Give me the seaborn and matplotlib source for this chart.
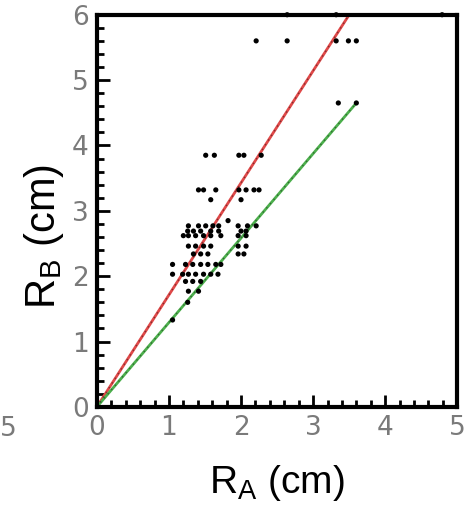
import numpy as np
import pandas as pd
import matplotlib
matplotlib.use("Agg")
import matplotlib.pyplot as plt
import seaborn as sns
from matplotlib.ticker import MultipleLocator

# ---- data ----
ra = [2.64, 3.32, 4.79,
      2.21, 2.64, 3.32, 3.49, 3.60,
      3.35, 3.60,
      1.51, 1.63, 1.97, 2.04, 2.28,
      1.41, 1.48, 1.65, 1.97, 2.07, 2.18, 2.25,
      1.58, 2.00,
      1.82,
      1.27, 1.41, 1.51, 1.61, 1.69, 1.96, 2.09, 2.21,
      1.26, 1.34, 1.44, 1.58, 1.69, 2.00, 2.07,
      1.20, 1.27, 1.37, 1.48, 1.58, 1.72, 1.96, 2.07,
      1.27, 1.37, 1.48, 1.58, 1.96, 2.07,
      1.34, 1.44, 1.54, 1.96, 2.04,
      1.05, 1.23, 1.33, 1.44, 1.54, 1.65, 1.72,
      1.05, 1.19, 1.27, 1.37, 1.48, 1.58, 1.68,
      1.23, 1.33, 1.44,
      1.27, 1.41,
      1.26,
      1.05]
rb = [6.0, 6.0, 6.0,
      5.6, 5.6, 5.6, 5.6, 5.6,
      4.65, 4.65,
      3.85, 3.85, 3.85, 3.85, 3.85,
      3.32, 3.32, 3.32, 3.32, 3.32, 3.32, 3.32,
      3.17, 3.17,
      2.85,
      2.77, 2.77, 2.77, 2.77, 2.77, 2.77, 2.77, 2.77,
      2.69, 2.69, 2.69, 2.69, 2.69, 2.69, 2.69,
      2.62, 2.62, 2.62, 2.62, 2.62, 2.62, 2.62, 2.62,
      2.46, 2.46, 2.46, 2.46, 2.46, 2.46,
      2.34, 2.34, 2.34, 2.34, 2.34,
      2.18, 2.18, 2.18, 2.18, 2.18, 2.18, 2.18,
      2.03, 2.03, 2.03, 2.03, 2.03, 2.03, 2.03,
      1.92, 1.92, 1.92,
      1.77, 1.77,
      1.60,
      1.33]

red_x = [0.0, 3.6]
red_y = [0.0, 6.17]
green_x = [0.0, 3.6]
green_y = [0.0, 4.65]

x_ticks = [0, 1, 2, 3, 4, 5]
y_ticks = [0, 1, 2, 3, 4, 5, 6]

sns.set_style("white")
plt.rcParams['font.family'] = ['Liberation Sans', 'DejaVu Sans']

fig = plt.figure(figsize=(4.68, 5.08), dpi=100)
ax = fig.add_axes([0.207, 0.199, 0.770, 0.772])

pts = pd.DataFrame({"RA": ra, "RB": rb})
sns.lineplot(x=red_x, y=red_y, ax=ax, color="#e04848", lw=2.0)
sns.lineplot(x=green_x, y=green_y, ax=ax, color="#4caf4c", lw=2.0)
sns.lineplot(x=red_x, y=red_y, ax=ax, color="#402020", lw=1.0, ls=(0, (1, 3)), alpha=0.6)
sns.lineplot(x=green_x, y=green_y, ax=ax, color="#203a20", lw=1.0, ls=(0, (1, 3)), alpha=0.6)
sns.scatterplot(data=pts, x="RA", y="RB", ax=ax, color="black", s=14,
                edgecolor="none", zorder=5, clip_on=False)

ax.set_xlim(0, 5)
ax.set_ylim(0, 6)
ax.set_xticks(x_ticks)
ax.set_yticks(y_ticks)
ax.xaxis.set_minor_locator(MultipleLocator(0.2))
ax.yaxis.set_minor_locator(MultipleLocator(0.2))
ax.tick_params(axis="both", which="major", direction="in", length=9, width=2,
               color="black", labelsize=19, labelcolor="#7a7a7a", pad=6,
               bottom=True, left=True, top=False, right=False)
ax.tick_params(axis="both", which="minor", direction="in", length=5, width=2,
               color="black", bottom=True, left=True, top=False, right=False)
for lbl in ax.get_xticklabels() + ax.get_yticklabels():
    lbl.set_fontfamily(['Liberation Sans Narrow', 'DejaVu Sans'])

for sp in ax.spines.values():
    sp.set_visible(True)
    sp.set_linewidth(3)
    sp.set_color("black")

ax.set_xlabel(r"R$_\mathregular{A}$ (cm)", fontsize=28, color="black", labelpad=16)
ax.set_ylabel(r"R$_\mathregular{B}$ (cm)", fontsize=30, color="black")
ax.yaxis.set_label_coords(-0.085, 0.436)

fig.text(0.0, 0.155, "5", fontsize=19, color="#7a7a7a", ha="left", va="center",
         family=['Liberation Sans Narrow', 'DejaVu Sans'])

fig.savefig("out.png", dpi=100)
